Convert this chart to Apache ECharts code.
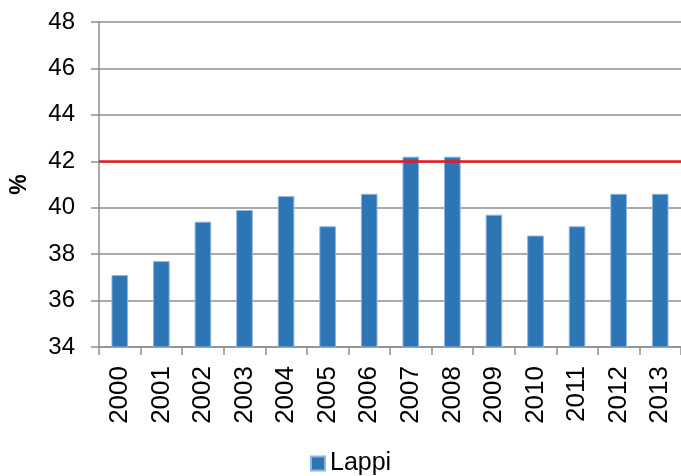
<!DOCTYPE html>
<html>
<head>
<meta charset="utf-8">
<script src="https://cdn.jsdelivr.net/npm/echarts@6/dist/echarts.min.js"></script>
<style>html,body{margin:0;padding:0;background:#fff}#c{width:681px;height:476px}</style>
</head>
<body>
<div id="c"></div>
<script>
const categories = ['2000','2001','2002','2003','2004','2005','2006','2007','2008','2009','2010','2011','2012','2013'];
const lappiValues = [37.1, 37.7, 39.4, 39.9, 40.5, 39.2, 40.6, 42.2, 42.2, 39.7, 38.8, 39.2, 40.6, 40.6];
const referenceLevel = 42;
const seriesName = 'Lappi';
const yAxisName = '%';

const FONT = "Liberation Sans";
const chart = echarts.init(document.getElementById('c'), null, {renderer: 'canvas'});
chart.setOption({
  animation: false,
  backgroundColor: '#ffffff',
  textStyle: {fontFamily: FONT},
  grid: {left: 96, top: 22, right: -3, bottom: 129, containLabel: false},
  legend: {
    data: [seriesName],
    left: 305, top: 446,
    icon: 'rect', itemWidth: 14, itemHeight: 14, itemGap: 5,
    textStyle: {fontSize: 25, color: '#000', fontFamily: FONT}
  },
  xAxis: {
    type: 'category',
    data: categories,
    boundaryGap: true,
    axisLine: {show: true, lineStyle: {color: '#8e8e8e', width: 1.5}},
    axisTick: {show: true, length: 8, inside: false, alignWithLabel: false, lineStyle: {color: '#8e8e8e', width: 1.5}},
    axisLabel: {rotate: 90, margin: 19, fontSize: 26, color: '#000', fontFamily: FONT, interval: 0},
    splitLine: {show: false}
  },
  yAxis: {
    type: 'value',
    min: 34, max: 48, interval: 2,
    name: yAxisName,
    nameLocation: 'middle',
    nameRotate: 90,
    nameGap: 68,
    nameTextStyle: {fontSize: 23, fontWeight: 'bold', color: '#000', fontFamily: FONT},
    axisLine: {show: true, lineStyle: {color: '#8e8e8e', width: 1.5}},
    axisTick: {show: true, length: 8, inside: false, lineStyle: {color: '#8e8e8e', width: 1.5}},
    axisLabel: {margin: 24, fontSize: 24, color: '#000', fontFamily: FONT},
    splitLine: {show: true, lineStyle: {color: '#8e8e8e', width: 1.5}}
  },
  series: [{
    name: seriesName,
    type: 'bar',
    data: lappiValues,
    barWidth: '40%',
    itemStyle: {color: '#2E75B6', borderColor: '#8fb5df', borderWidth: 1},
    markLine: {
      silent: true,
      symbol: 'none',
      label: {show: false},
      lineStyle: {color: '#E8191E', width: 2.5, type: 'solid'},
      data: [{yAxis: referenceLevel}]
    }
  }]
});
</script>
</body>
</html>
